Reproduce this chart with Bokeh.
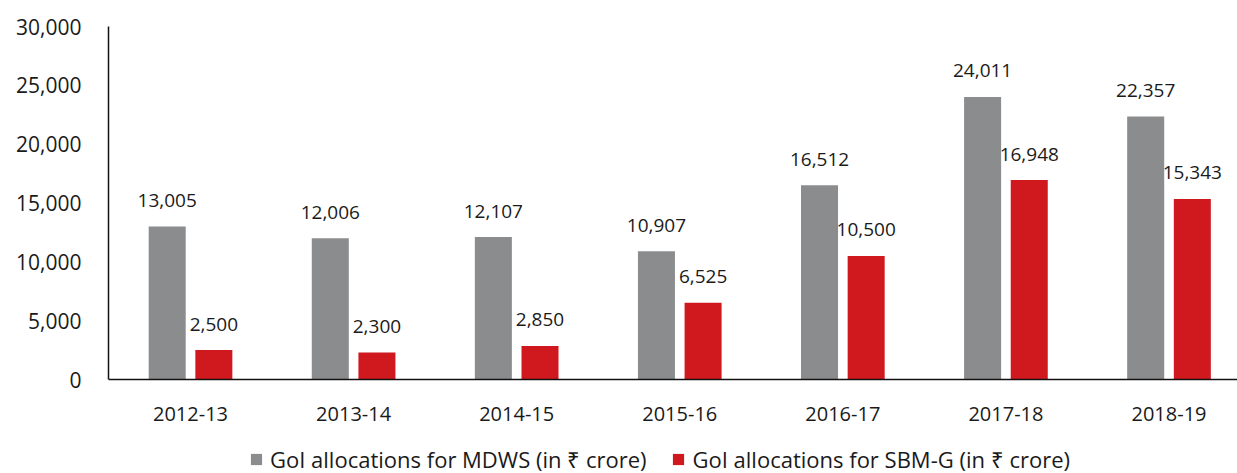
from bokeh.plotting import figure
from bokeh.models import ColumnDataSource, Range1d, FixedTicker, Legend, LegendItem, NumeralTickFormatter
from bokeh.transform import dodge
from bokeh.core.properties import value
from bokeh.embed import file_html
from bokeh.resources import INLINE

categories = ["2012-13", "2013-14", "2014-15", "2015-16", "2016-17", "2017-18", "2018-19"]
mdws = [13005, 12006, 12107, 10907, 16512, 24011, 22357]
sbmg = [2500, 2300, 2850, 6525, 10500, 16948, 15343]
y_ticks = [0, 5000, 10000, 15000, 20000, 25000, 30000]
series_names = ["GoI allocations for MDWS (in \u20b9 crore)", "GoI allocations for SBM-G (in \u20b9 crore)"]

GREY = "#8b8c8e"
RED = "#d0191f"
FONT = "Open Sans"

src = ColumnDataSource(dict(
    x=list(range(len(categories))),
    mdws=mdws,
    sbmg=sbmg,
    mdws_lbl=[f"{v:,}" for v in mdws],
    sbmg_lbl=[f"{v:,}" for v in sbmg],
))

# frame spans from y=26px to the bottom of the canvas; value 0 sits 94px above the bottom
Y_MAX = 30000
y_min = -Y_MAX * 94 / 353

p = figure(width=1237, height=473, output_backend="svg", toolbar_location=None,
           x_range=Range1d(-0.503, 6.42), y_range=Range1d(y_min, Y_MAX),
           min_border_left=108, min_border_right=0, min_border_top=26, min_border_bottom=0)
p.outline_line_color = None
p.background_fill_color = "white"
p.border_fill_color = "white"
p.xgrid.grid_line_color = None
p.ygrid.grid_line_color = None

off = 0.143
w = 0.227
r1 = p.vbar(x=dodge("x", -off), top="mdws", width=w, source=src, fill_color=GREY, line_color=None)
r2 = p.vbar(x=dodge("x", off), top="sbmg", width=w, source=src, fill_color=RED, line_color=None)

p.text(x=dodge("x", -off), y="mdws", text="mdws_lbl", source=src, text_align="center",
       text_baseline="middle", y_offset=-26, text_font=value(FONT), text_font_size="19px",
       text_color="#1a1a1a")
p.text(x=dodge("x", off), y="sbmg", text="sbmg_lbl", source=src, text_align="center",
       text_baseline="middle", y_offset=-26, text_font=value(FONT), text_font_size="19px",
       text_color="#1a1a1a")

# axes
p.xaxis.fixed_location = 0
p.xaxis.ticker = FixedTicker(ticks=list(range(len(categories))))
p.xaxis.major_label_overrides = {i: c for i, c in enumerate(categories)}
p.yaxis.ticker = FixedTicker(ticks=y_ticks)
p.yaxis.bounds = (0, Y_MAX)
p.yaxis.formatter = NumeralTickFormatter(format="0,0")
for ax in (p.xaxis, p.yaxis):
    ax.major_tick_line_color = None
    ax.minor_tick_line_color = None
    ax.axis_line_color = "#111111"
    ax.axis_line_width = 1.5
    ax.major_label_text_font = FONT
    ax.major_label_text_color = "#1a1a1a"
p.xaxis.major_label_text_font_size = "20px"
p.yaxis.major_label_text_font_size = "21px"
p.xaxis.major_label_standoff = 21
p.yaxis.major_label_standoff = 21

legend = Legend(items=[LegendItem(label=series_names[0], renderers=[r1]),
                       LegendItem(label=series_names[1], renderers=[r2])],
                orientation="horizontal", location=(141, -1),
                glyph_width=14, glyph_height=14, label_standoff=7, spacing=25,
                padding=0, margin=0, border_line_color=None, background_fill_alpha=0,
                label_text_font=FONT, label_text_font_size="22px", label_text_color="#1a1a1a",
                label_height=20)
p.add_layout(legend, "center")

open("out.html", "w").write(file_html(p, INLINE))
